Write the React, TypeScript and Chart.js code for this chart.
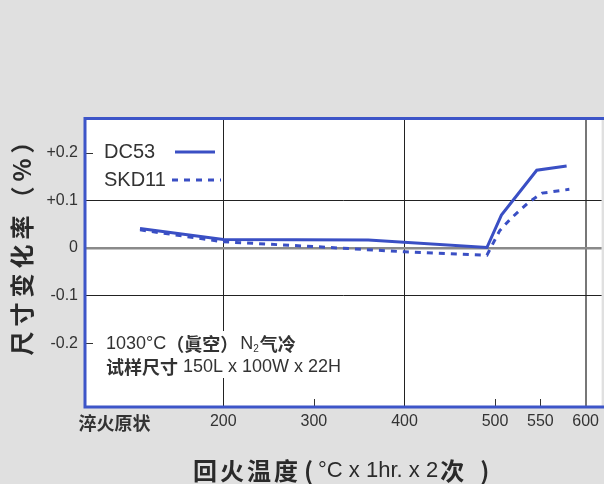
import React, { useEffect, useRef } from "react";
import { Chart, registerables } from "chart.js";

Chart.register(...registerables);

// ---- data ----
const seriesNames = ["DC53", "SKD11"];
const dc53Temps = [108, 200, 360, 491, 507, 546, 579];
const dc53Values = [0.041, 0.018, 0.017, 0.001, 0.069, 0.163, 0.172];
const skd11Temps = [108, 200, 300, 400, 491, 505, 517, 528, 538, 552, 582];
const skd11Values = [0.038, 0.013, 0.003, -0.008, -0.015, 0.036, 0.061, 0.08, 0.097, 0.115, 0.123];

const xTickValues = [80, 200, 300, 400, 500, 550, 600];
const xTickLabels = ["淬火原状", "200", "300", "400", "500", "550", "600"];
const xGridValues = [200, 400, 600];
const xInnerTickValues = [300, 500, 550];

const yTickValues = [-0.2, -0.1, 0, 0.1, 0.2];
const yTickLabels = ["-0.2", "-0.1", "0", "+0.1", "+0.2"];
const yGridValues = [-0.1, 0.1];
const yInnerTickValues = [-0.2, 0.2];

const xTitleParts = ["回火温度", "(", "°C x 1hr. x 2", "次", ")"];
const yTitle = "尺寸变化率（%）";
const noteLine1 = ["1030°C", "（眞空）", "N", "2", "气冷"];
const noteLine2 = ["试样尺寸", " 150L x 100W x 22H"];

const LAT = "'Liberation Sans', 'Noto Sans CJK SC', sans-serif";
const CJK = "'Noto Sans CJK SC', 'Liberation Sans', sans-serif";
const BLUE = "#3a4fc4";
const FRAME = "#3d55c8";
const TEXT = "#333333";

type Seg = { t: string; f: string; ls?: number; dy?: number; dx?: number };

function drawSegs(ctx: CanvasRenderingContext2D, x: number, y: number, segs: Seg[]) {
  let cx = x;
  for (const s of segs) {
    ctx.font = s.f;
    (ctx as any).letterSpacing = (s.ls || 0) + "px";
    cx += s.dx || 0;
    ctx.fillText(s.t, cx, y + (s.dy || 0));
    cx += ctx.measureText(s.t).width;
  }
  (ctx as any).letterSpacing = "0px";
}

const decoPlugin = {
  id: "deco",
  beforeDraw(chart: any) {
    const { ctx, width, height, chartArea: a } = chart;
    ctx.save();
    ctx.fillStyle = "#e0e0e0";
    ctx.fillRect(0, 0, width, height);
    ctx.fillStyle = "#ffffff";
    ctx.fillRect(a.left, a.top, a.right - a.left, a.bottom - a.top);
    ctx.restore();
  },
  afterDraw(chart: any) {
    const { ctx, chartArea: a, scales } = chart;
    const xs = scales.x;
    const ys = scales.y;
    ctx.save();

    // inner tick marks
    ctx.strokeStyle = "#333";
    ctx.lineWidth = 1;
    ctx.beginPath();
    for (const v of yInnerTickValues) {
      const py = Math.round(ys.getPixelForValue(v)) + 0.5;
      ctx.moveTo(a.left + 1, py);
      ctx.lineTo(a.left + 8, py);
    }
    for (const v of xInnerTickValues) {
      const px = Math.round(xs.getPixelForValue(v)) + 0.5;
      ctx.moveTo(px, a.bottom);
      ctx.lineTo(px, a.bottom - 8);
    }
    ctx.stroke();

    // annotation box
    ctx.fillStyle = "#ffffff";
    ctx.fillRect(100, 331, 246, 47);
    ctx.fillStyle = TEXT;
    ctx.textAlign = "left";
    ctx.textBaseline = "middle";
    drawSegs(ctx, 106, 344, [
      { t: noteLine1[0], f: `18px ${LAT}` },
      { t: noteLine1[1], f: `bold 18px ${CJK}` },
      { t: noteLine1[2], f: `18px ${LAT}`, dx: 2 },
      { t: noteLine1[3], f: `10px ${LAT}`, dy: 5 },
      { t: noteLine1[4], f: `bold 18px ${CJK}`, dx: 1 },
    ]);
    drawSegs(ctx, 106, 367, [
      { t: noteLine2[0], f: `bold 18px ${CJK}` },
      { t: noteLine2[1], f: `18px ${LAT}` },
    ]);

    // frame
    ctx.strokeStyle = FRAME;
    ctx.lineWidth = 3;
    ctx.beginPath();
    ctx.moveTo(a.right + 3, a.top + 0.5);
    ctx.lineTo(a.left, a.top + 0.5);
    ctx.lineTo(a.left, a.bottom);
    ctx.lineTo(a.right + 3, a.bottom);
    ctx.stroke();

    // legend
    const ds = chart.data.datasets;
    const legendRows = [
      { y: 152, x0: 175, x1: 215 },
      { y: 180, x0: 172, x1: 221 },
    ];
    ds.forEach((d: any, i: number) => {
      const r = legendRows[i];
      ctx.fillStyle = TEXT;
      ctx.font = `20px ${LAT}`;
      ctx.textAlign = "left";
      ctx.textBaseline = "middle";
      ctx.fillText(d.label, 104, r.y);
      ctx.strokeStyle = d.borderColor;
      ctx.lineWidth = d.borderWidth;
      ctx.setLineDash(d.borderDash || []);
      ctx.beginPath();
      ctx.moveTo(r.x0, r.y);
      ctx.lineTo(r.x1, r.y);
      ctx.stroke();
      ctx.setLineDash([]);
    });

    // x title
    ctx.fillStyle = "#2a2a2a";
    ctx.textAlign = "left";
    ctx.textBaseline = "middle";
    drawSegs(ctx, 193, 471, [
      { t: xTitleParts[0], f: `bold 24px ${CJK}`, ls: 3 },
      { t: xTitleParts[1], f: `bold 24px ${CJK}`, dx: 3 },
      { t: xTitleParts[2], f: `22px ${LAT}`, dx: 5 },
      { t: xTitleParts[3], f: `bold 24px ${CJK}`, dx: 2 },
      { t: xTitleParts[4], f: `bold 24px ${CJK}`, dx: 16 },
    ]);

    // y title
    ctx.save();
    ctx.translate(22, 240);
    ctx.rotate(-Math.PI / 2);
    ctx.font = `bold 24px ${CJK}`;
    (ctx as any).letterSpacing = "5px";
    ctx.textAlign = "center";
    ctx.textBaseline = "middle";
    ctx.fillText(yTitle, 0, 0);
    ctx.restore();

    ctx.restore();
  },
};

export default function App() {
  const ref = useRef<HTMLCanvasElement | null>(null);

  useEffect(() => {
    if (!ref.current) return;
    const chart = new Chart(ref.current, {
      type: "line",
      data: {
        datasets: [
          {
            label: seriesNames[0],
            data: dc53Temps.map((t, i) => ({ x: t, y: dc53Values[i] })),
            borderColor: BLUE,
            borderWidth: 3,
            pointRadius: 0,
            tension: 0,
            fill: false,
          },
          {
            label: seriesNames[1],
            data: skd11Temps.map((t, i) => ({ x: t, y: skd11Values[i] })),
            borderColor: BLUE,
            borderWidth: 3,
            borderDash: [6, 6],
            pointRadius: 0,
            tension: 0,
            fill: false,
          },
        ],
      },
      options: {
        animation: false,
        responsive: false,
        devicePixelRatio: 1,
        layout: { padding: { top: 118, left: 0, right: 0, bottom: 0 } },
        plugins: { legend: { display: false }, tooltip: { enabled: false } },
        scales: {
          x: {
            type: "linear",
            min: 47.3,
            max: 617.6,
            afterBuildTicks: (s: any) => {
              s.ticks = xTickValues.map((v) => ({ value: v }));
            },
            afterFit: (s: any) => {
              s.height = 77;
            },
            border: { display: false },
            grid: {
              drawTicks: false,
              color: (c: any) => {
                const v = c.tick ? c.tick.value : null;
                if (v === 600) return "#777777";
                if (xGridValues.includes(v)) return "#222222";
                return "rgba(0,0,0,0)";
              },
              lineWidth: (c: any) => (c.tick && c.tick.value === 600 ? 2 : 1),
            },
            ticks: {
              autoSkip: false,
              maxRotation: 0,
              minRotation: 0,
              padding: 5,
              color: TEXT,
              font: (c: any) =>
                c.tick && c.tick.value === xTickValues[0]
                  ? { family: CJK, size: 18, weight: "bold" }
                  : { family: LAT, size: 16 },
              callback: (v: any) => {
                const i = xTickValues.indexOf(v);
                return i >= 0 ? xTickLabels[i] : "";
              },
            },
          },
          y: {
            type: "linear",
            min: -0.3333,
            max: 0.2725,
            afterBuildTicks: (s: any) => {
              s.ticks = yTickValues.map((v) => ({ value: v }));
            },
            afterFit: (s: any) => {
              s.width = 85;
            },
            border: { display: false },
            grid: {
              drawTicks: false,
              color: (c: any) => {
                const v = c.tick ? c.tick.value : null;
                if (v === 0) return "#8a8a8a";
                if (yGridValues.includes(v)) return "#222222";
                return "rgba(0,0,0,0)";
              },
              lineWidth: (c: any) => (c.tick && c.tick.value === 0 ? 2.5 : 1),
            },
            ticks: {
              padding: 7,
              color: TEXT,
              font: { family: LAT, size: 16 },
              callback: (v: any) => {
                const i = yTickValues.indexOf(v);
                return i >= 0 ? yTickLabels[i] : "";
              },
            },
          },
        },
      },
      plugins: [decoPlugin],
    } as any);
    return () => chart.destroy();
  }, []);

  return (
    <div style={{ position: "fixed", left: 0, top: 0, width: 604, height: 484 }}>
      <canvas ref={ref} width={604} height={484} style={{ display: "block" }} />
    </div>
  );
}
